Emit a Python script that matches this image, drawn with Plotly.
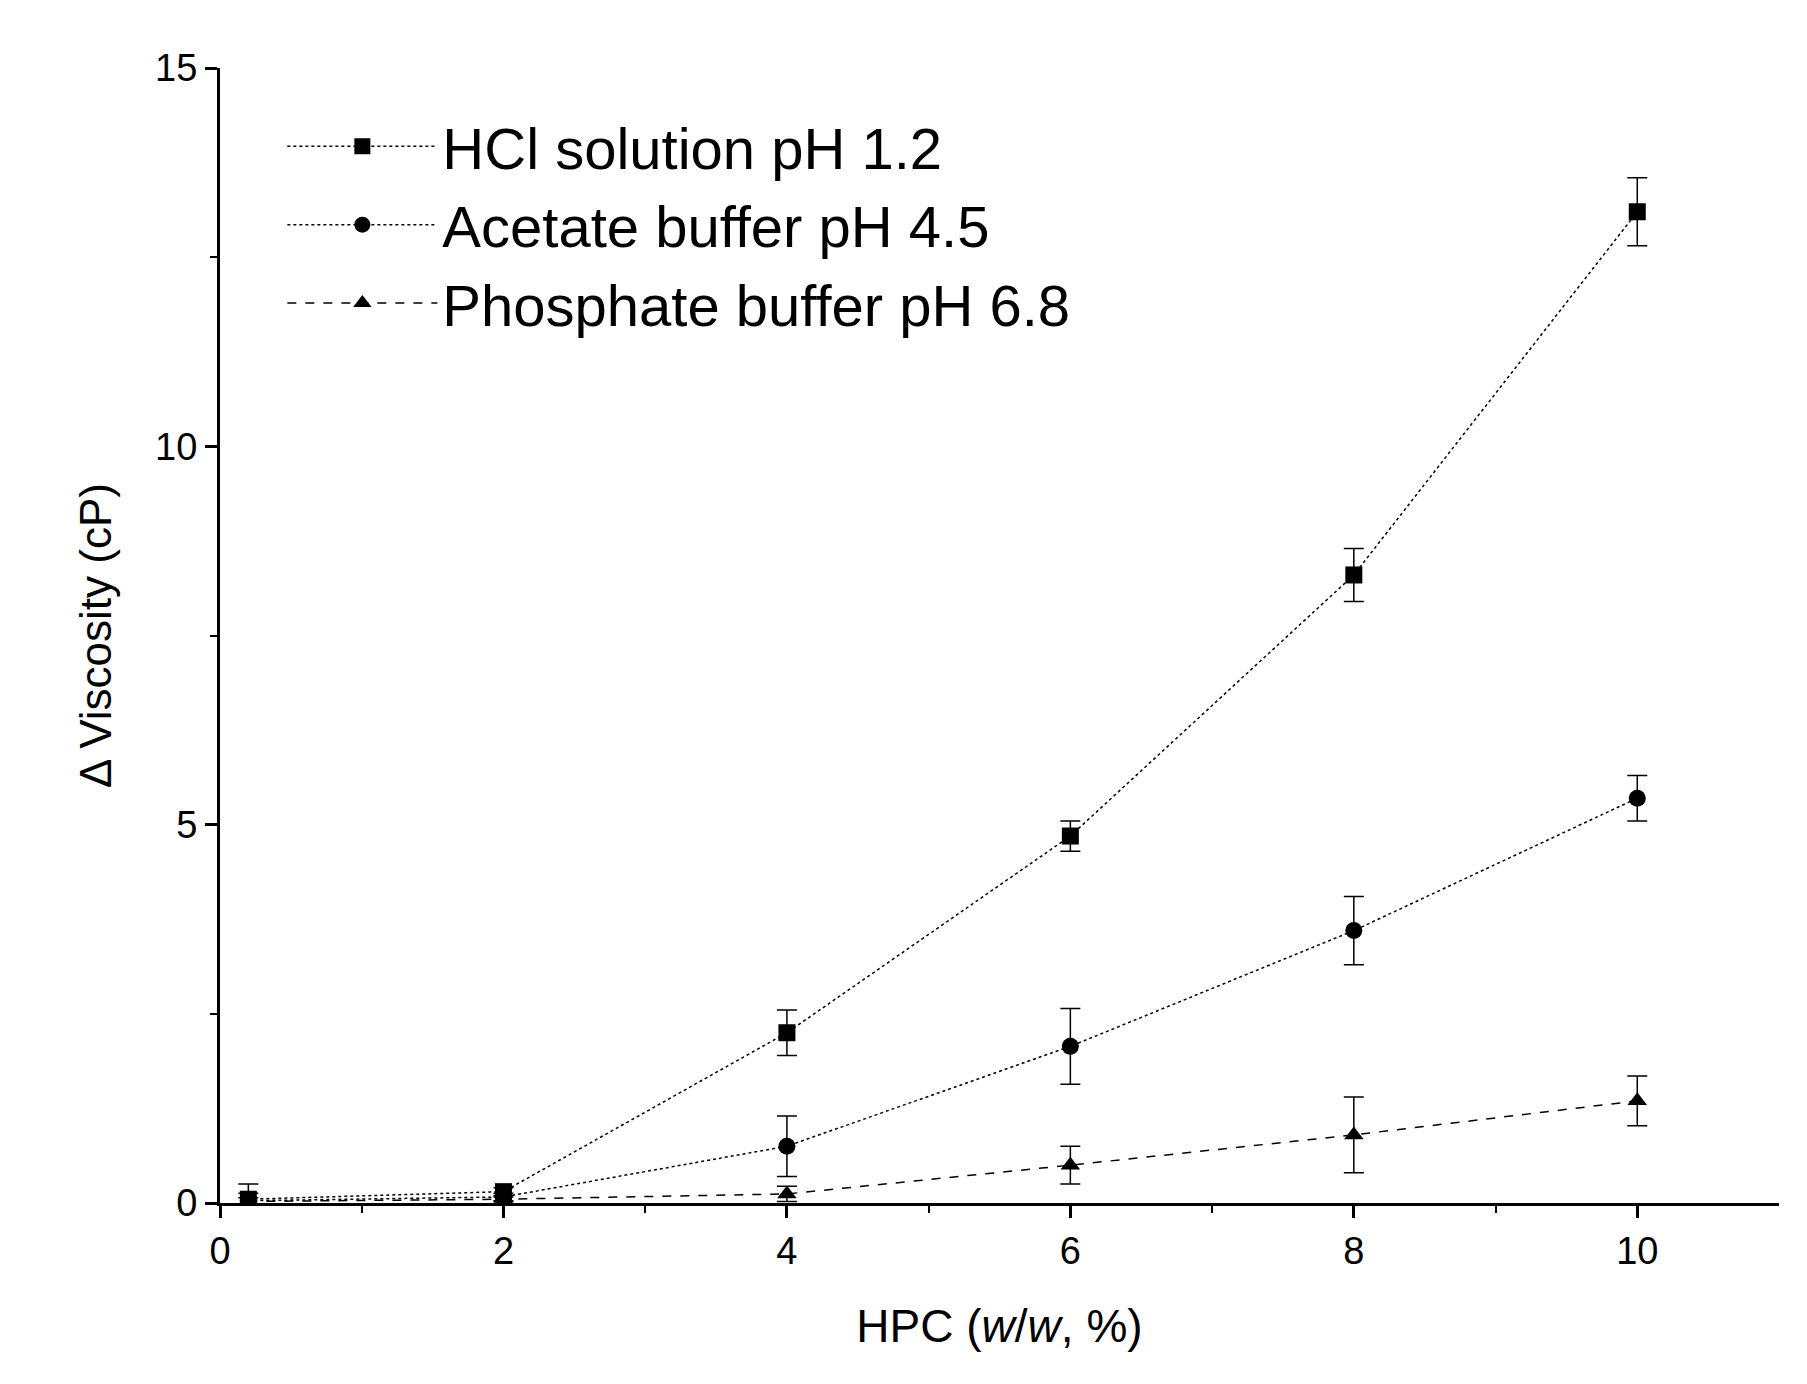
import plotly.graph_objects as go

x = [0.2, 2, 4, 6, 8, 10]
hcl = [0.05, 0.15, 2.25, 4.85, 8.3, 13.1]
hcl_err = [0.2, 0.05, 0.3, 0.2, 0.35, 0.45]
ace = [0.03, 0.08, 0.75, 2.07, 3.6, 5.35]
ace_err = [0.1, 0.05, 0.4, 0.5, 0.45, 0.3]
pho = [0.02, 0.05, 0.12, 0.5, 0.9, 1.35]
pho_err = [0.05, 0.03, 0.1, 0.25, 0.5, 0.33]

fig = go.Figure()
def add(name, y, e, sym, dash):
    fig.add_trace(go.Scatter(x=x, y=y, name=name, mode="lines+markers",
        line=dict(color="black", width=1.5, dash=dash),
        marker=dict(symbol=sym, size=17, color="black"),
        error_y=dict(type="data", array=e, color="black", thickness=1.5, width=10)))
add("HCl solution pH 1.2", hcl, hcl_err, "square", "dot")
add("Acetate buffer pH 4.5", ace, ace_err, "circle", "dot")
add("Phosphate buffer pH 6.8", pho, pho_err, "triangle-up", "dash")

ax = dict(showline=True, linecolor="black", linewidth=3, ticks="outside", ticklen=12,
          tickwidth=3, tickcolor="black", showgrid=False, zeroline=False,
          tickfont=dict(size=38, color="black"))
fig.update_layout(
    width=1807, height=1384, plot_bgcolor="white", paper_bgcolor="white",
    font=dict(family="Liberation Sans", color="black"),
    margin=dict(l=212, r=36, t=60, b=189),
    xaxis=dict(ax, range=[0, 11], tickvals=[0, 2, 4, 6, 8, 10],
               minor=dict(tickvals=[1, 3, 5, 7, 9], ticklen=7, tickwidth=2, ticks="outside", tickcolor="black"),
               title=dict(text="HPC (<i>w</i>/<i>w</i>, %)", font=dict(size=46), standoff=40)),
    yaxis=dict(ax, range=[0, 15], tickvals=[0, 5, 10, 15],
               minor=dict(tickvals=[2.5, 7.5, 12.5], ticklen=7, tickwidth=2, ticks="outside", tickcolor="black"),
               title=dict(text="Δ Viscosity (cP)", font=dict(size=44), standoff=30)),
    legend=dict(x=0.04, y=0.97, xanchor="left", yanchor="top", font=dict(size=58),
                bgcolor="rgba(0,0,0,0)", itemwidth=150),
)
fig.write_html("out.html")
